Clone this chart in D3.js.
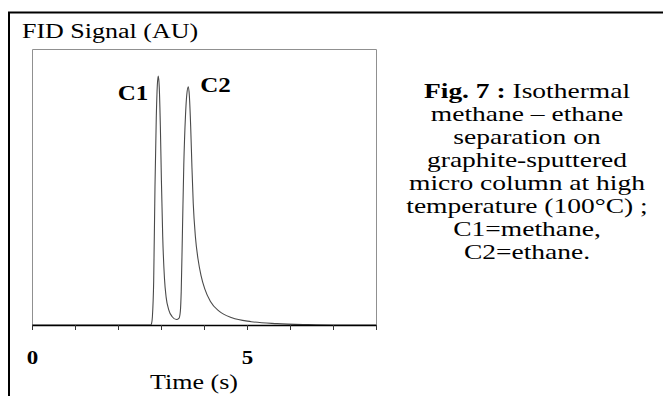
<!DOCTYPE html>
<html>
<head>
<meta charset="utf-8">
<script src="https://cdn.jsdelivr.net/npm/d3@7"></script>
<style>
  body { margin: 0; background: #fff; }
  text { font-family: "Liberation Serif", "Times New Roman", serif; fill: #000; }
</style>
</head>
<body>
<div id="chart"></div>
<script>
// Data: time (s) and FID signal (AU, 0-100)
const times  = [0, 1, 2, 2.76, 2.78, 2.80, 2.83, 2.86, 2.89, 2.915, 2.937, 2.96, 2.985, 3.01, 3.04, 3.08, 3.12, 3.18, 3.26, 3.36,
                3.42, 3.45, 3.47, 3.50, 3.53, 3.57, 3.60, 3.635, 3.66, 3.69, 3.72, 3.75, 3.80, 3.86, 3.93, 4.02, 4.15, 4.35,
                4.65, 5.1, 5.7, 6.4, 7, 8];
const signal = [0, 0, 0, 0, 0.5, 3, 16, 50, 75, 87, 90.2, 86, 72, 52, 32, 17, 10, 5.5, 3, 2,
                2.5, 5, 12, 35, 58, 76, 83.5, 86.3, 83, 72, 57, 44, 32, 24, 18, 13, 8.5, 5,
                2.6, 1.2, 0.5, 0.15, 0, 0];
const xTicks = [0, 1, 2, 3, 4, 5, 6, 7, 8];
const xTickLabels = ['0', '', '', '', '', '5', '', '', ''];
const peakNames = ['C1', 'C2'];
const peakTimes = [2.937, 3.635];
const captionLines = ['methane \u2013 ethane', 'separation on', 'graphite-sputtered',
                      'micro column at high', 'temperature (100\u00B0C) ;', 'C1=methane,', 'C2=ethane.'];

// Step 1: chart area
const svgWidth = 665, svgHeight = 396;
const plot = { left: 32, top: 49, right: 376, bottom: 325 };
// the source figure is squashed vertically, so text is too
const squash = 0.8;

const svg = d3.select('#chart').append('svg')
    .attr('width', svgWidth)
    .attr('height', svgHeight);

// outer figure frame (top and left only)
svg.append('path')
    .attr('d', 'M9,396 V12.5 H663')
    .attr('fill', 'none')
    .attr('stroke', '#000')
    .attr('stroke-width', 2);

// helper: squashed text placed at a baseline point
function label(x, y, size) {
    return svg.append('g')
        .attr('transform', `translate(${x},${y}) scale(1,${squash})`)
        .append('text')
        .attr('font-size', size);
}

// Step 2: scales
const xScale = d3.scaleLinear().domain([0, 8]).range([plot.left, plot.right]);
const yScale = d3.scaleLinear().domain([0, 100]).range([plot.bottom, plot.top]);

// plot frame in grey
svg.append('path')
    .attr('d', `M${plot.left + 0.5},${plot.bottom} V${plot.top + 0.5} H${plot.right + 0.5} V${plot.bottom}`)
    .attr('fill', 'none')
    .attr('stroke', '#909090')
    .attr('stroke-width', 1);

// Step 3: trace
const data = times.map((t, i) => ({ t: t, v: signal[i] }));
const line = d3.line()
    .x(d => xScale(d.t))
    .y(d => yScale(d.v))
    .curve(d3.curveMonotoneX);

svg.append('path')
    .datum(data)
    .attr('d', line)
    .attr('fill', 'none')
    .attr('stroke', '#4a4a4a')
    .attr('stroke-width', 1.1);

// Step 4: x axis
const bottomAxis = d3.axisBottom(xScale)
    .tickValues(xTicks)
    .tickFormat((d, i) => xTickLabels[i])
    .tickSize(5)
    .tickSizeOuter(0);

const xAxis = svg.append('g')
    .attr('transform', `translate(0, ${plot.bottom})`)
    .call(bottomAxis);
xAxis.select('.domain').attr('stroke', '#000').attr('stroke-width', 1.6);
xAxis.selectAll('.tick line').attr('stroke', '#333');
xAxis.selectAll('.tick text')
    .attr('y', 0)
    .attr('dy', 0)
    .attr('transform', `translate(0,39) scale(1,${squash})`)
    .attr('font-family', '"Liberation Serif", serif')
    .attr('font-size', 23)
    .attr('font-weight', 'bold')
    .attr('fill', '#000');

// Step 5: axis titles and peak names
label(22, 38, 26).text('FID Signal (AU)');

label(194, 389, 26)
    .attr('text-anchor', 'middle')
    .text('Time (s)');

peakNames.forEach((name, i) => {
    const x = i === 0 ? xScale(peakTimes[i]) - 10 : xScale(peakTimes[i]) + 12;
    label(x, i === 0 ? 100 : 92, 25)
        .attr('text-anchor', i === 0 ? 'end' : 'start')
        .attr('font-weight', 'bold')
        .text(name);
});

// Step 6: caption
const capX = 527, capY = 98, capStep = 23;
const first = label(capX, capY, 27.5).attr('text-anchor', 'middle');
first.append('tspan').attr('font-weight', 'bold').text('Fig. 7 :');
first.append('tspan').text(' Isothermal');

captionLines.forEach((txt, i) => {
    label(capX, capY + (i + 1) * capStep, 27.5)
        .attr('text-anchor', 'middle')
        .text(txt);
});
</script>
</body>
</html>
